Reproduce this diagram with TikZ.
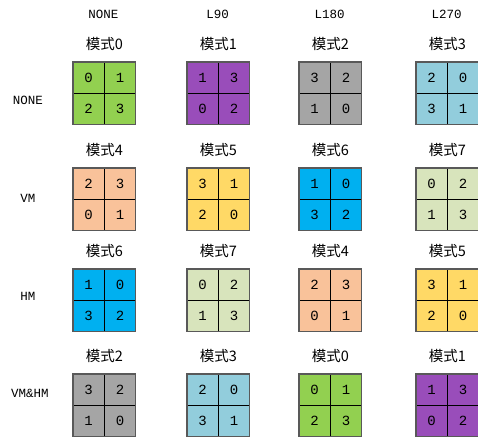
\documentclass[tikz,border=0pt]{standalone}
\usepackage{fontspec}
\usepackage{tikz}
\usetikzlibrary{positioning, calc}
\newfontfamily\cjkfont{Noto Sans CJK SC}
\newfontfamily\digitfont{Liberation Mono}

\definecolor{mode0}{HTML}{92D050}
\definecolor{mode1}{HTML}{994DBA}
\definecolor{mode2}{HTML}{A5A5A5}
\definecolor{mode3}{HTML}{92CDDC}
\definecolor{mode4}{HTML}{F9C29A}
\definecolor{mode5}{HTML}{FFD966}
\definecolor{mode6}{HTML}{00B0F0}
\definecolor{mode7}{HTML}{D8E4BC}

\begin{document}
\begin{tikzpicture}[
    x=1pt, y=-1pt,
    cell/.style={draw=black, line width=0.8pt, minimum size=30.5pt, inner sep=0pt,
                 font=\digitfont\fontsize{14}{14}\selectfont},
    frame/.style={draw=black!65, line width=1.4pt},
    head/.style={font=\digitfont\fontsize{12.5}{12.5}\selectfont, inner sep=1pt},
    modelabel/.style={font=\cjkfont\fontsize{14.5}{14.5}\selectfont, inner sep=1pt}
    ]
    \useasboundingbox (0,0) rectangle (478,437);

    % Column headers
    \node[head] (hnone) at (103.5,14) {NONE};
    \node[head] (hl90)  at (217.5,14) {L90};
    \node[head] (hl180) at (329.5,14) {L180};
    \node[head] (hl270) at (446.5,14) {L270};

    % Row headers
    \node[head] (rnone) at (28,100) {NONE};
    \node[head] (rvm)   at (28,198) {VM};
    \node[head] (rhm)   at (28,296) {HM};
    \node[head] (rvmhm) at (30,393) {VM\&HM};

    % Mode grids: column/row/mode/four cells
    \foreach \col/\row/\m/\a/\b/\c/\d in {
        0/0/0/0/1/2/3, 1/0/1/1/3/0/2, 2/0/2/3/2/1/0, 3/0/3/2/0/3/1,
        0/1/4/2/3/0/1, 1/1/5/3/1/2/0, 2/1/6/1/0/3/2, 3/1/7/0/2/1/3,
        0/2/6/1/0/3/2, 1/2/7/0/2/1/3, 2/2/4/2/3/0/1, 3/2/5/3/1/2/0,
        0/3/2/3/2/1/0, 1/3/3/2/0/3/1, 2/3/0/0/1/2/3, 3/3/1/1/3/0/2} {
        \pgfmathsetmacro\gx{{73,187,299,416}[\col]}
        \pgfmathsetmacro\gy{{62,168,269,374}[\row]}
        \node[cell, fill=mode\m, anchor=north west] (g\row\col a) at (\gx,\gy) {\a};
        \node[cell, fill=mode\m, right=0pt of g\row\col a] (g\row\col b) {\b};
        \node[cell, fill=mode\m, below=0pt of g\row\col a] (g\row\col c) {\c};
        \node[cell, fill=mode\m, right=0pt of g\row\col c] (g\row\col d) {\d};
        \draw[frame] (g\row\col a.north west) rectangle (g\row\col d.south east);
        \node[modelabel] (l\row\col) at ([yshift=18pt]g\row\col a.north east) {模式\m};
    }
\end{tikzpicture}
\end{document}
